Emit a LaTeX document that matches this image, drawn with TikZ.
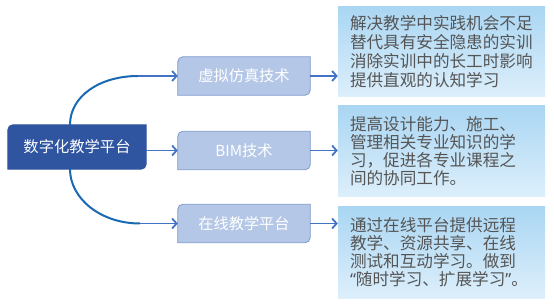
\documentclass[tikz,border=0pt]{standalone}
\usepackage{fontspec}
\newfontfamily\cjk{Noto Sans CJK SC}
\newfontfamily\latq{Noto Sans}
\usetikzlibrary{arrows.meta,backgrounds}
\definecolor{darkblue}{HTML}{2F54A0}
\definecolor{midfill}{HTML}{B4C7E7}
\definecolor{midline}{HTML}{7C98CD}
\definecolor{arrowblue}{HTML}{4472C4}
\definecolor{curveblue}{HTML}{1A6AB3}
\definecolor{gradtop}{HTML}{AAD6F3}
\definecolor{gradbot}{HTML}{DDEFFB}
\definecolor{txtgray}{HTML}{555555}
\begin{document}
\begin{tikzpicture}[x=1pt,y=-1pt,
  hub/.style={minimum width=138pt,minimum height=44pt,inner sep=0pt,text=white,
    font=\cjk\fontsize{15.3}{18}\selectfont},
  topic/.style={minimum width=132pt,minimum height=38pt,inner sep=0pt,text=white,
    font=\cjk\fontsize{15.2}{18}\selectfont},
  note/.style={minimum width=207pt,minimum height=91pt,inner xsep=12pt,inner ysep=0pt,
    text width=183pt,align=left,top color=gradtop,bottom color=gradbot,text=txtgray,
    font=\cjk\fontsize{16.6}{18}\selectfont},
  arr/.style={draw=arrowblue,line width=1.8pt,-{Straight Barb[length=4.5pt,width=10pt]}},
  bendline/.style={draw=curveblue,line width=2pt}]
\useasboundingbox (0,0) rectangle (554,307);
\node[hub] (C) at (77,147) {数字化教学平台};
\node[topic] (M1) at (244,76) {虚拟仿真技术};
\node[topic] (M2) at (244,150.5) {BIM技术};
\node[topic] (M3) at (244,223.5) {在线教学平台};
\node[note,minimum height=90pt,font=\cjk\fontsize{16.6}{19}\selectfont] (R1) at (441.5,52)
  {解决教学中实践机会不足\\替代具有安全隐患的实训\\消除实训中的长工时影响\\提供直观的认知学习};
\node[note] (R2) at (441.5,151.5)
  {提高设计能力、施工、\\管理相关专业知识的学\\习，促进各专业课程之\\间的协同工作。};
\node[note] (R3) at (441.5,252.5)
  {通过在线平台提供远程\\教学、资源共享、在线\\测试和互动学习。做到\\{\latq “}随时学习、扩展学习{\latq ”}。};
\begin{scope}[on background layer]
  \draw[fill=darkblue,draw=darkblue,line width=0.8pt]
    (C.west) [rounded corners=5pt] -- (C.north west) -- (C.north) [sharp corners]
    -- (C.north east) -- (C.east) [rounded corners=5pt] -- (C.south east) -- (C.south)
    [sharp corners] -- (C.south west) -- cycle;
  \foreach \n in {M1,M2,M3}
    \draw[fill=midfill,draw=midline,line width=0.8pt]
      (\n.west) [rounded corners=5pt] -- (\n.north west) -- (\n.north) [sharp corners]
      -- (\n.north east) -- (\n.east) [rounded corners=5pt] -- (\n.south east) -- (\n.south)
      [sharp corners] -- (\n.south west) -- cycle;
\end{scope}
\coordinate (k1) at (138,76);
\coordinate (k3) at (140,223.5);
\draw[bendline] ([xshift=-7pt]C.north) .. controls (70,96) and (100,76) .. (k1);
\draw[bendline] ([xshift=-7pt]C.south) .. controls (70,198) and (100,223.5) .. (k3);
\draw[arr] (k1) -- (k1 -| M1.west);
\draw[arr] (C.east |- M2.west) -- (M2.west);
\draw[arr] (k3) -- (k3 -| M3.west);
\draw[arr] (M1.east) -- (M1.east -| R1.west);
\draw[arr] (M2.east) -- (M2.east -| R2.west);
\draw[arr] (M3.east) -- (M3.east -| R3.west);
\end{tikzpicture}
\end{document}
